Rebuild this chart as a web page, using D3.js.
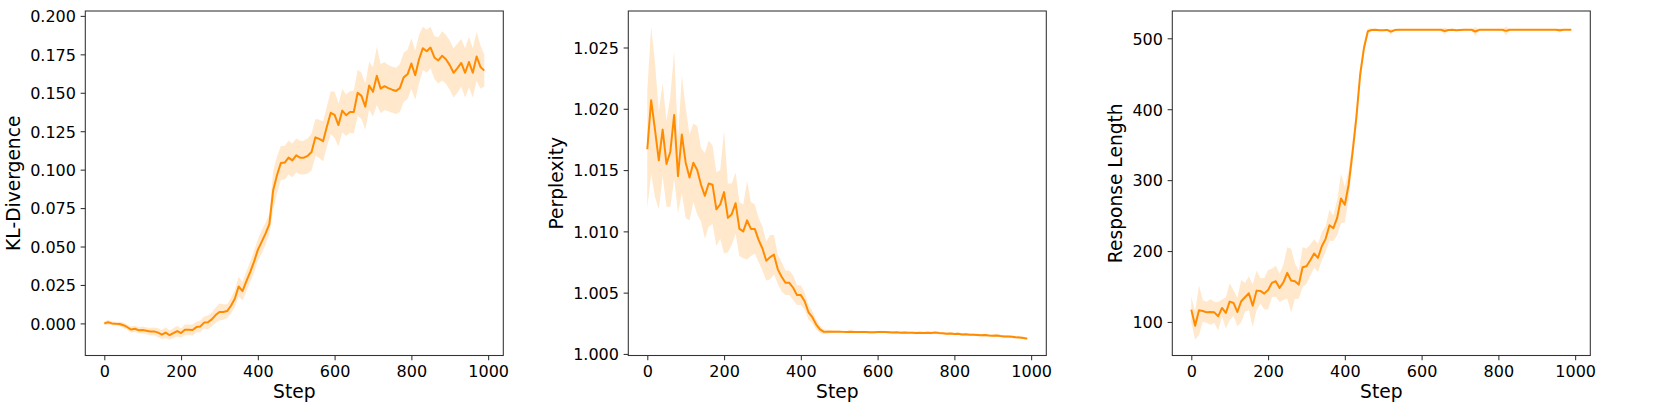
<!DOCTYPE html>
<html>
<head>
<meta charset="utf-8">
<script src="https://cdn.jsdelivr.net/npm/d3@7"></script>
<style>
  html, body { margin: 0; padding: 0; background: #fff; }
  svg { display: block; }
  text { font-family: "DejaVu Sans", sans-serif; fill: #000; }
</style>
</head>
<body>
<svg id="chart" width="1661" height="406"></svg>
<script>
// ---------------- DATA ----------------
const steps = d3.range(0, 1000, 10); // 0,10,...,990

const xTicks = [0, 200, 400, 600, 800, 1000];

const klMean = [0.0000,0.0007,0.0000,-0.0003,-0.0004,-0.0012,-0.0025,-0.0040,-0.0035,-0.0045,
-0.0043,-0.0048,-0.0053,-0.0052,-0.0060,-0.0073,-0.0060,-0.0077,-0.0063,-0.0050,
-0.0063,-0.0042,-0.0042,-0.0043,-0.0024,-0.0020,0.0005,0.0007,0.0026,0.0054,
0.0074,0.0074,0.0080,0.0115,0.0160,0.0240,0.0210,0.0273,0.0334,0.0400,
0.0478,0.0530,0.0584,0.0646,0.0866,0.0965,0.1043,0.1046,0.1078,0.1060,
0.1093,0.1078,0.1078,0.1090,0.1115,0.1210,0.1200,0.1185,0.1280,0.1370,
0.1356,0.1290,0.1384,0.1354,0.1375,0.1375,0.1500,0.1480,0.1410,0.1547,
0.1506,0.1610,0.1527,0.1543,0.1530,0.1520,0.1512,0.1530,0.1600,0.1620,
0.1690,0.1614,0.1718,0.1790,0.1770,0.1794,0.1730,0.1710,0.1740,0.1718,
0.1680,0.1630,0.1660,0.1694,0.1630,0.1700,0.1630,0.1736,0.1668,0.1644];

const klStd = [0.0012,0.0015,0.0012,0.0012,0.0015,0.0018,0.0018,0.0020,0.0020,0.0020,
0.0022,0.0022,0.0025,0.0025,0.0028,0.0030,0.0035,0.0030,0.0032,0.0035,
0.0030,0.0035,0.0035,0.0035,0.0035,0.0038,0.0040,0.0045,0.0045,0.0050,
0.0055,0.0050,0.0045,0.0050,0.0055,0.0065,0.0060,0.0065,0.0065,0.0070,
0.0070,0.0075,0.0070,0.0065,0.0125,0.0120,0.0110,0.0110,0.0110,0.0110,
0.0110,0.0110,0.0110,0.0115,0.0120,0.0120,0.0125,0.0130,0.0130,0.0140,
0.0150,0.0140,0.0140,0.0135,0.0135,0.0140,0.0150,0.0150,0.0150,0.0155,
0.0160,0.0190,0.0160,0.0155,0.0150,0.0150,0.0150,0.0155,0.0160,0.0160,
0.0165,0.0160,0.0160,0.0140,0.0140,0.0135,0.0140,0.0150,0.0160,0.0160,
0.0160,0.0160,0.0160,0.0155,0.0160,0.0165,0.0160,0.0160,0.0140,0.0105];

const pplMean = [1.0167,1.0207,1.0183,1.0158,1.0183,1.0155,1.0165,1.0195,1.0145,1.0179,
1.0156,1.0144,1.0156,1.0150,1.0138,1.0129,1.0139,1.0138,1.0118,1.0122,
1.0132,1.0111,1.0114,1.0123,1.0102,1.0100,1.0109,1.0102,1.0102,1.0093,
1.0086,1.0076,1.0079,1.0081,1.0069,1.0063,1.0058,1.0058,1.0054,1.0048,
1.0048,1.0043,1.0034,1.0030,1.0024,1.0020,1.00180,1.00182,1.00181,1.00182,
1.00182,1.00180,1.00178,1.00181,1.00179,1.00178,1.00179,1.00178,1.00176,1.00177,
1.00178,1.00179,1.00178,1.00177,1.00175,1.00176,1.00173,1.00175,1.00172,1.00173,
1.00171,1.00172,1.00170,1.00173,1.00171,1.00174,1.00170,1.00168,1.00165,1.00166,
1.00162,1.00164,1.00159,1.00160,1.00156,1.00157,1.00155,1.00153,1.00154,1.00150,
1.00149,1.00150,1.00146,1.00143,1.00142,1.00140,1.00136,1.00134,1.00130,1.00125];

const pplStd = [0.0048,0.0060,0.0055,0.0040,0.0038,0.0035,0.0045,0.0052,0.0030,0.0048,
0.0045,0.0035,0.0032,0.0036,0.0030,0.0035,0.0035,0.0032,0.0030,0.0028,
0.0050,0.0028,0.0025,0.0025,0.0022,0.0022,0.0032,0.0022,0.0020,0.0018,
0.0018,0.0016,0.0018,0.0016,0.0012,0.0012,0.0010,0.0010,0.0010,0.0008,
0.0008,0.0007,0.0006,0.0005,0.0004,0.0003,0.0002,0.00015,0.00012,0.0001,
0.0001,0.0001,0.0001,0.0001,0.0001,0.0001,0.0001,0.0001,0.0001,0.0001,
0.0001,0.0001,0.0001,0.0001,0.0001,0.0001,0.0001,0.0001,0.0001,0.0001,
0.0001,0.0001,0.0001,0.0001,0.0001,0.0001,0.0001,0.0001,0.0001,0.0001,
0.0001,0.0001,0.0001,0.0001,0.0001,0.0001,0.0001,0.0001,0.0001,0.0001,
0.0001,0.0001,0.0001,0.0001,0.0001,0.0001,0.0001,0.0001,0.0001,0.0001];

const lenMean = [117.4,94.8,116.5,115.5,113.6,114.1,113.6,108.0,119.8,112.7,
128.7,126.8,114.1,129.2,134.8,140.5,123.0,144.2,143.8,140.0,
145.2,155.1,157.4,148.0,156.0,169.2,158.4,157.4,152.7,177.2,
178.6,187.1,196.5,190.4,206.8,217.2,236.5,232.2,246.8,274.1,
265.2,293.9,338.6,388.0,449.2,486.8,509.9,511.8,512.0,511.5,
511.2,511.8,509.4,511.6,512.0,512.0,512.0,512.0,512.0,512.0,
512.0,512.0,512.0,512.0,512.0,512.0,510.2,511.8,512.0,511.5,
511.8,512.0,512.0,512.0,509.6,511.9,512.0,512.0,512.0,512.0,
512.0,512.0,510.4,512.0,512.0,512.0,512.0,512.0,512.0,512.0,
512.0,512.0,512.0,512.0,512.0,512.0,511.2,512.0,512.0,512.0];

const lenStd = [18,20,35,15,15,18,15,20,12,22,
26,18,20,30,20,24,30,28,18,22,
28,20,22,20,25,36,45,25,20,28,
25,22,20,20,20,18,22,18,25,35,
25,20,15,12,10,8,4,2,1,1,
1,1,4,1,1,1,1,1,1,1,
1,1,1,1,1,1,5,1,1,1,
1,1,1,1,6,1,1,1,1,1,
1,1,6,1,1,1,1,1,1,1,
1,1,1,1,1,1,3,1,1,1];

const klTicks  = [0.000, 0.025, 0.050, 0.075, 0.100, 0.125, 0.150, 0.175, 0.200];
const pplTicks = [1.000, 1.005, 1.010, 1.015, 1.020, 1.025];
const lenTicks = [100, 200, 300, 400, 500];

// ---------------- LAYOUT ----------------
const panels = [
  { left: 85.3,   mean: klMean,  std: klStd,  yTicks: klTicks,  fmt: d3.format(".3f"), label: "KL-Divergence" },
  { left: 628.3,  mean: pplMean, std: pplStd, yTicks: pplTicks, fmt: d3.format(".3f"), label: "Perplexity" },
  { left: 1172.3, mean: lenMean, std: lenStd, yTicks: lenTicks, fmt: d3.format("d"),   label: "Response Length" }
];
const plotW = 418, plotTop = 11, plotBottom = 355.5;
const tickLen = 4.67, tickPad = 4.67;
const tickFont = 16, labelFont = 18.67;
const color = "#ff8c00";
const spineColor = "#333";

const svg = d3.select("#chart");

function padded(ext) {
  const r = ext[1] - ext[0];
  return [ext[0] - 0.05 * r, ext[1] + 0.05 * r];
}

panels.forEach(p => {
  const rows = steps.map((s, i) => ({ s, m: p.mean[i], lo: p.mean[i] - p.std[i], hi: p.mean[i] + p.std[i] }));
  const x = d3.scaleLinear().domain(padded(d3.extent(steps))).range([p.left, p.left + plotW]);
  const yExt = [d3.min(rows, d => d.lo), d3.max(rows, d => d.hi)];
  const y = d3.scaleLinear().domain(padded(yExt)).range([plotBottom, plotTop]);

  const g = svg.append("g");

  // band
  g.append("path")
    .datum(rows)
    .attr("fill", color)
    .attr("fill-opacity", 0.2)
    .attr("stroke", "none")
    .attr("d", d3.area().x(d => x(d.s)).y0(d => y(d.lo)).y1(d => y(d.hi)));

  // line
  g.append("path")
    .datum(rows)
    .attr("fill", "none")
    .attr("stroke", color)
    .attr("stroke-width", 2)
    .attr("stroke-linejoin", "round")
    .attr("d", d3.line().x(d => x(d.s)).y(d => y(d.m)));

  // x axis
  const xAxis = d3.axisBottom(x).tickValues(xTicks).tickSize(tickLen).tickPadding(tickPad).tickFormat(d3.format("d"));
  const gx = g.append("g").attr("transform", `translate(0,${plotBottom})`).call(xAxis);
  gx.select(".domain").remove();
  gx.selectAll(".tick line").attr("stroke", spineColor).attr("stroke-width", 1.07);
  gx.selectAll(".tick text")
    .attr("font-size", tickFont).attr("font-family", "DejaVu Sans")
    .attr("dy", null).attr("y", tickLen + tickPad + 0.729 * tickFont)
    .attr("fill", "#000");

  // y axis
  const yAxis = d3.axisLeft(y).tickValues(p.yTicks).tickSize(tickLen).tickPadding(tickPad).tickFormat(p.fmt);
  const gy = g.append("g").attr("transform", `translate(${p.left},0)`).call(yAxis);
  gy.select(".domain").remove();
  gy.selectAll(".tick line").attr("stroke", spineColor).attr("stroke-width", 1.07);
  gy.selectAll(".tick text")
    .attr("font-size", tickFont).attr("font-family", "DejaVu Sans")
    .attr("dy", null).attr("y", 0.729 * tickFont / 2)
    .attr("fill", "#000");

  // spines
  g.append("rect")
    .attr("x", p.left).attr("y", plotTop)
    .attr("width", plotW).attr("height", plotBottom - plotTop)
    .attr("fill", "none").attr("stroke", spineColor).attr("stroke-width", 1.07);

  // x label
  g.append("text")
    .attr("x", p.left + plotW / 2).attr("y", plotBottom + 42)
    .attr("text-anchor", "middle").attr("font-size", labelFont)
    .text("Step");

  // y label: placed left of the widest tick label
  let minX = Infinity;
  gy.selectAll(".tick text").each(function () {
    const b = this.getBBox();
    minX = Math.min(minX, p.left + b.x);
  });
  const bx = minX - 10.5;
  g.append("text")
    .attr("transform", `translate(${bx},${(plotTop + plotBottom) / 2}) rotate(-90)`)
    .attr("text-anchor", "middle").attr("font-size", labelFont)
    .text(p.label);
});
</script>
</body>
</html>
